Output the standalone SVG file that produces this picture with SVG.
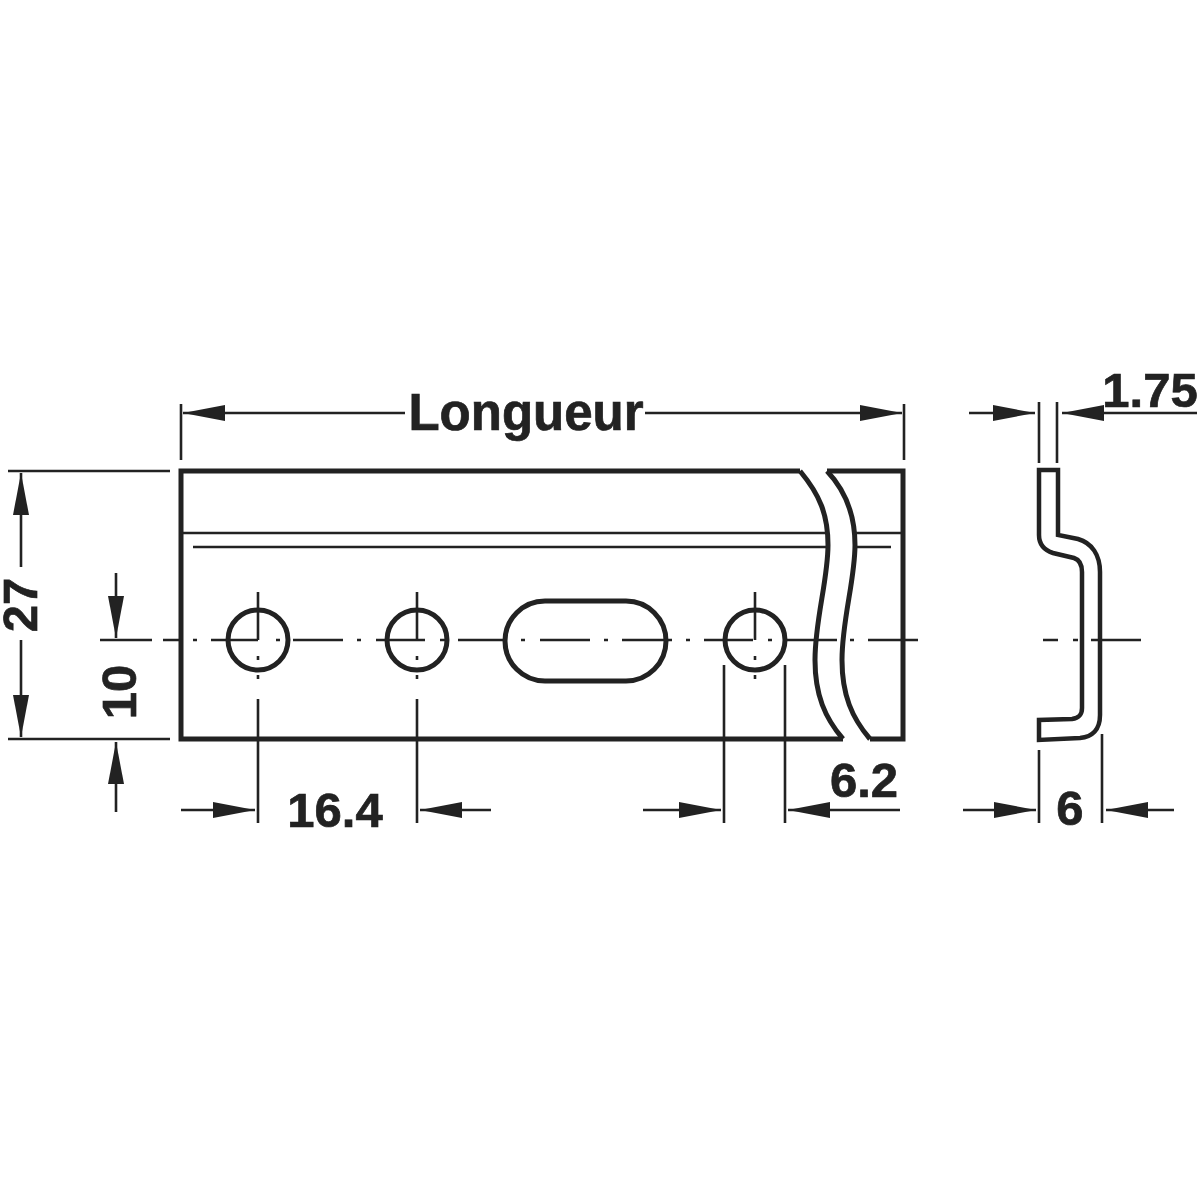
<svg xmlns="http://www.w3.org/2000/svg" width="1200" height="1200" viewBox="0 0 1200 1200">
<style>
.thick{fill:none;stroke:#222;stroke-width:5}
.prof{fill:none;stroke:#222;stroke-width:4.5}
.thin{fill:none;stroke:#222;stroke-width:2.6}
.head{fill:#222;stroke:none}
text{font-family:"Liberation Sans",Arial,sans-serif;font-weight:700;font-size:49px;fill:#222;stroke:#222;stroke-width:.7}
.long{font-size:51px}
</style>
<defs>
<marker id="ah" markerUnits="userSpaceOnUse" markerWidth="44" markerHeight="18" refX="42" refY="8" orient="auto-start-reverse"><path class="head" d="M0 0L42 8L0 16Z"/></marker>
</defs>
<rect width="1200" height="1200" fill="#fff"/>
<g id="plate">
<path class="thick" d="M800 471H181V739H843"/>
<path class="thick" d="M827 471H903V739H870"/>
<path class="thick" d="M800 471C820 495 828 515 828 545C828 580 815 620 815 660C815 695 825 718 843 739"/>
<path class="thick" d="M827 471C845 490 855 515 855 545C855 580 842 620 842 660C842 695 852 718 870 739"/>
<path class="thin" d="M181 533H826M856 533H903M193 547H827M855 547H891"/>
<circle class="thick" cx="258" cy="640" r="30"/>
<circle class="thick" cx="417" cy="640" r="30"/>
<circle class="thick" cx="755" cy="640" r="30"/>
<rect class="thick" x="505" y="601" width="161" height="80" rx="40"/>
</g>
<g id="profile">
<path class="prof" d="M1039 470H1058V535L1078 539C1092 543 1100 555 1100 572V715C1100 730 1092 737 1080 738L1039 740V720L1072 719C1079 718 1082 715 1082 708V572C1082 565 1080 560 1074 558L1053 553C1044 550 1039 545 1039 535Z"/>
</g>
<g id="connectors">
<path class="thin" d="M100 640H152M163 640H179M193 640H197M211 640H258M276 640H280M293 640H343M357 640H361M376 640H425M440 640H445M458 640H505M521 640H525M540 640H590M604 640H608M622 640H672M686 640H690M704 640H753M768 640H772M787 640H837M850 640H854M868 640H918M1043 640H1058M1073 640H1078M1091 640H1141"/>
<path class="thin" d="M258 592V640M258 656V660M258 675V679M258 699V823M417 592V640M417 656V660M417 675V679M417 699V823M755 592V640M755 656V660M755 675V679"/>
<path class="thin" d="M181 404V460M904 404V460M8 471H170M8 739H170M724 665V823M785 665V823M1039 402V463M1057 402V463M1039 750V823M1102 734V823"/>
<path class="thin" marker-end="url(#ah)" d="M405 413H183"/>
<path class="thin" marker-end="url(#ah)" d="M645 413H902"/>
<path class="thin" marker-end="url(#ah)" d="M21 567V473"/>
<path class="thin" marker-end="url(#ah)" d="M21 640V737"/>
<path class="thin" marker-end="url(#ah)" d="M116 573V638"/>
<path class="thin" marker-end="url(#ah)" d="M116 812V742"/>
<path class="thin" marker-end="url(#ah)" d="M181 810H255"/>
<path class="thin" marker-end="url(#ah)" d="M491 810H420"/>
<path class="thin" marker-end="url(#ah)" d="M643 810H721"/>
<path class="thin" marker-end="url(#ah)" d="M900 810H788"/>
<path class="thin" marker-end="url(#ah)" d="M969 413H1035"/>
<path class="thin" marker-end="url(#ah)" d="M1197 413H1062"/>
<path class="thin" marker-end="url(#ah)" d="M963 810H1036"/>
<path class="thin" marker-end="url(#ah)" d="M1174 810H1106"/>
</g>
<g id="labels">
<text class="long" x="526" y="430" text-anchor="middle">Longueur</text>
<text x="335" y="827" text-anchor="middle">16.4</text>
<text x="864" y="797" text-anchor="middle">6.2</text>
<text x="1070" y="825" text-anchor="middle">6</text>
<text x="1150" y="407" text-anchor="middle">1.75</text>
<text transform="translate(37 605) rotate(-90)" text-anchor="middle">27</text>
<text transform="translate(136 692) rotate(-90)" text-anchor="middle">10</text>
</g>
</svg>
